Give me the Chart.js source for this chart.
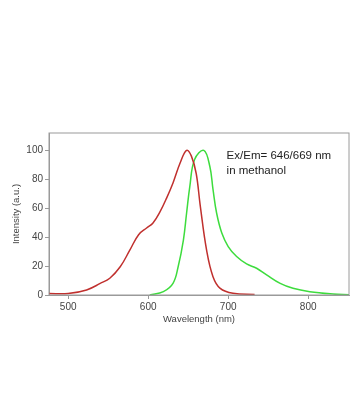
<!DOCTYPE html>
<html lang="en">
<head>
    <meta charset="UTF-8">
    <title>Ex/Em spectrum</title>
    <script src="https://cdn.jsdelivr.net/npm/chart.js"></script>
    <style>
        html, body { margin: 0; padding: 0; background: #fff; }
        .chart-container { position: relative; width: 364px; height: 420px; }
    </style>
</head>
<body>
    <div class="chart-container">
        <canvas id="specChart" width="364" height="420"></canvas>
    </div>

    <script>
        // excitation (red) and emission (green)
        const exWavelength = [476, 500, 523, 540, 552, 565, 577, 588, 598, 606, 615, 623, 631, 640, 648, 654, 660, 665, 673, 681, 690, 706, 733];
        const exIntensity  = [1, 1, 3.5, 8, 11.6, 19.5, 31, 41.7, 46.3, 49.8, 57.8, 67, 77.5, 91.4, 100, 96, 84, 62, 31, 12.7, 4.6, 1.2, 0.4];
        const emWavelength = [602, 619, 631, 637.5, 644, 648, 652, 658, 669.5, 677, 681, 685.5, 692, 700, 710.5, 723, 735.5, 748, 765, 781, 802, 831, 851];
        const emIntensity  = [0, 2.3, 8, 19.7, 38, 56.7, 75, 93.7, 100, 89, 73, 56.7, 42.8, 33.5, 26.6, 21.5, 18.5, 13.9, 8, 4.6, 2.3, 0.7, 0.2];
        const xTicks = [500, 600, 700, 800];
        const yTicks = [0, 20, 40, 60, 80, 100];
        const noteLines = ['Ex/Em= 646/669 nm', 'in methanol'];

        const toPoints = (xs, ys) => xs.map((x, i) => ({ x: x, y: ys[i] }));

        // frame round the plot area + text note
        const framePlugin = {
            id: 'frame',
            afterDraw(chart) {
                const { ctx, chartArea: a, scales } = chart;
                ctx.save();
                ctx.strokeStyle = '#9a9a9a';
                ctx.lineWidth = 1;
                ctx.strokeRect(a.left, a.top, a.right - a.left, a.bottom - a.top);
                ctx.fillStyle = '#222';
                ctx.font = '11.5px "Liberation Sans", Arial, sans-serif';
                ctx.textBaseline = 'middle';
                const x = scales.x.getPixelForValue(698);
                let y = scales.y.getPixelForValue(96);
                noteLines.forEach(line => {
                    ctx.fillText(line, x, y);
                    y += 14.5;
                });
                ctx.restore();
            }
        };

        new Chart(document.getElementById('specChart'), {
            type: 'line',
            data: {
                datasets: [
                    {
                        data: toPoints(exWavelength, exIntensity),
                        borderColor: '#c0302e',
                        borderWidth: 1.5,
                        pointRadius: 0,
                        tension: 0.4
                    },
                    {
                        data: toPoints(emWavelength, emIntensity),
                        borderColor: '#3ddc3d',
                        borderWidth: 1.5,
                        pointRadius: 0,
                        tension: 0.4
                    }
                ]
            },
            options: {
                responsive: false,
                animation: false,
                layout: { padding: { left: 0, right: 15, top: 133, bottom: 95 } },
                plugins: {
                    legend: { display: false },
                    tooltip: { enabled: false }
                },
                scales: {
                    x: {
                        type: 'linear',
                        min: 476,
                        max: 851,
                        afterBuildTicks: s => { s.ticks = xTicks.map(v => ({ value: v })); },
                        afterFit: s => { s.height = 30; },
                        grid: { drawOnChartArea: false, drawTicks: true, tickLength: 4, color: '#9a9a9a' },
                        border: { color: '#9a9a9a' },
                        ticks: { color: '#444', padding: 2, font: { size: 10, family: '"Liberation Sans", Arial' } },
                        title: {
                            display: true,
                            text: 'Wavelength (nm)',
                            color: '#444',
                            padding: 0,
                            font: { size: 9.5, family: '"Liberation Sans", Arial' }
                        }
                    },
                    y: {
                        min: 0,
                        max: 112,
                        afterBuildTicks: s => { s.ticks = yTicks.map(v => ({ value: v })); },
                        afterFit: s => { s.width = 49; },
                        grid: { drawOnChartArea: false, drawTicks: true, tickLength: 4, color: '#9a9a9a' },
                        border: { color: '#9a9a9a' },
                        ticks: { color: '#444', padding: 2, font: { size: 10, family: '"Liberation Sans", Arial' } },
                        title: {
                            display: true,
                            text: 'Intensity (a.u.)',
                            color: '#444',
                            padding: { top: 11, bottom: 0 },
                            font: { size: 9.5, family: '"Liberation Sans", Arial' }
                        }
                    }
                }
            },
            plugins: [framePlugin]
        });
    </script>
</body>
</html>
